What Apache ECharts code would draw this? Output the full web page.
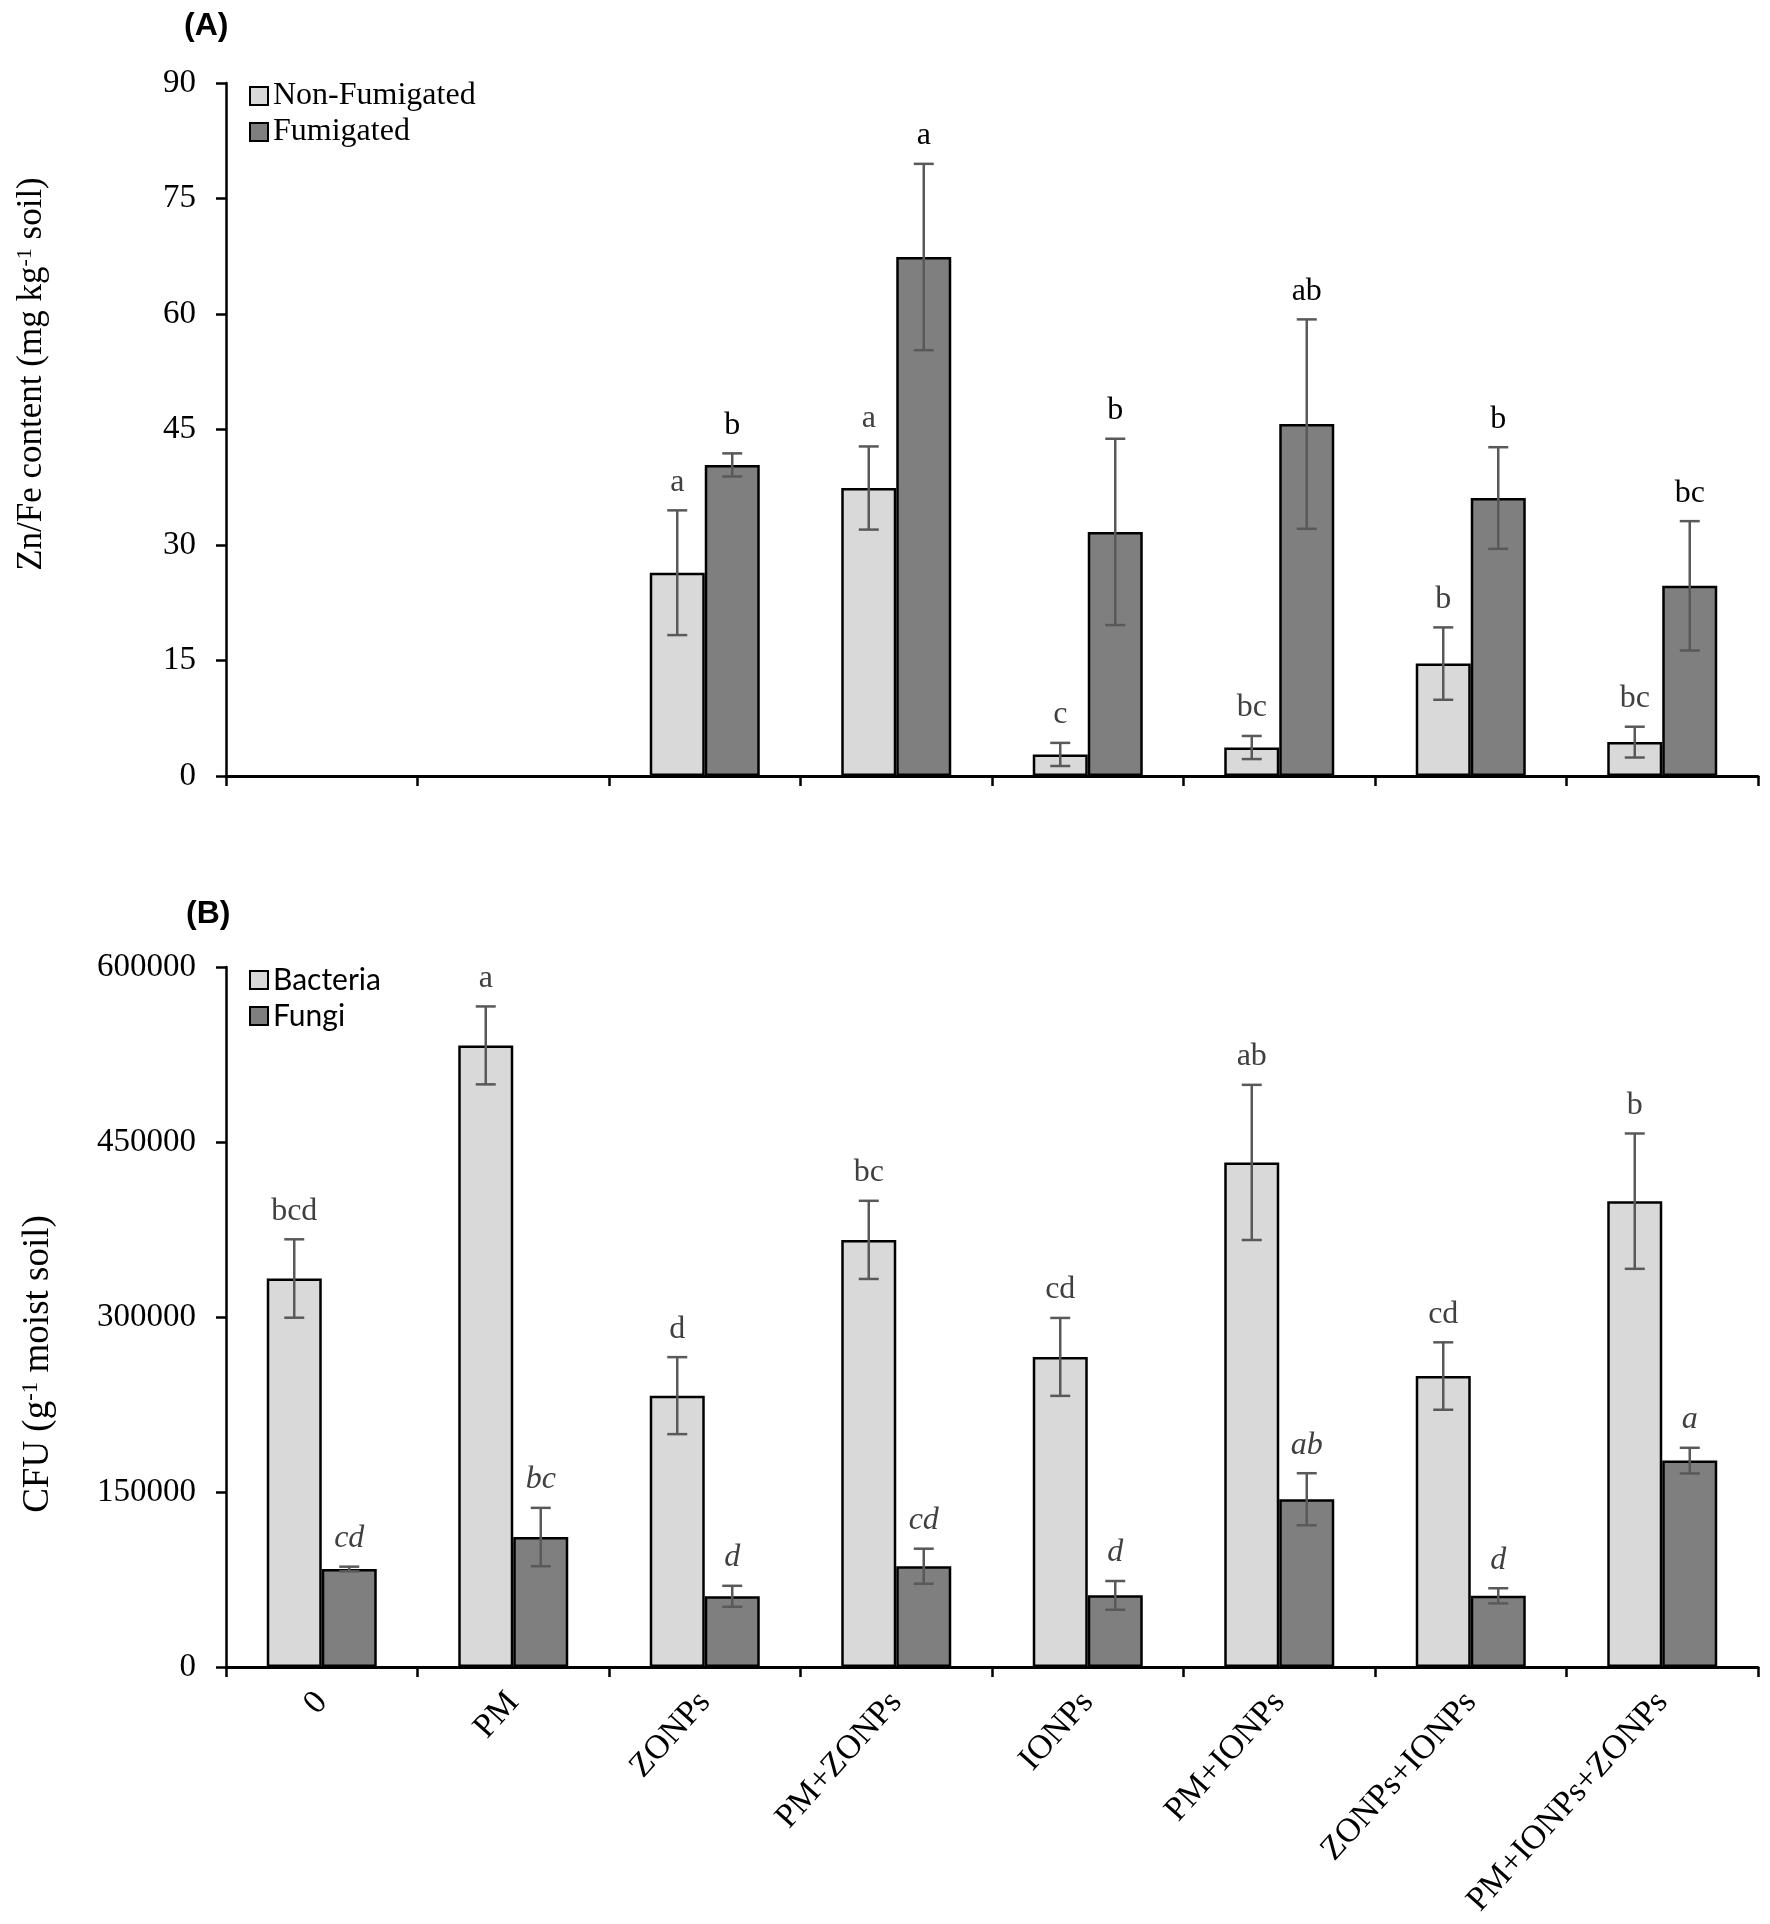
<!DOCTYPE html>
<html>
<head>
<meta charset="utf-8">
<script src="https://cdn.jsdelivr.net/npm/echarts@6/dist/echarts.min.js"></script>
<style>
  html, body { margin: 0; padding: 0; background: #fff; }
  #main { width: 1770px; height: 1924px; }
</style>
</head>
<body>
<div id="main"></div>
<script>
// treatments (x axis)
var categories = ['0', 'PM', 'ZONPs', 'PM+ZONPs', 'IONPs', 'PM+IONPs', 'ZONPs+IONPs', 'PM+IONPs+ZONPs'];

// (A) Zn/Fe content, mg kg-1 soil
var nonFumMean = [null, null, 26.4, 37.4, 2.8, 3.7, 14.6, 4.4];
var nonFumErr = [null, null, 8.1, 5.4, 1.5, 1.5, 4.7, 2.0];
var nonFumLetters = ['', '', 'a', 'a', 'c', 'bc', 'b', 'bc'];
var fumMean = [null, null, 40.4, 67.4, 31.7, 45.7, 36.1, 24.7];
var fumErr = [null, null, 1.5, 12.1, 12.1, 13.6, 6.6, 8.4];
var fumLetters = ['', '', 'b', 'a', 'b', 'ab', 'b', 'bc'];
var ticksA = [0, 90, 15];

// (B) CFU, g-1 moist soil
var bactMean = [333000, 532800, 232600, 366100, 265800, 432500, 249400, 399300];
var bactErr = [33600, 33400, 33000, 33500, 33400, 66500, 28900, 58000];
var bactLetters = ['bcd', 'a', 'd', 'bc', 'cd', 'ab', 'cd', 'b'];
var fungMean = [84000, 111400, 60600, 86400, 61400, 143800, 61000, 176900];
var fungErr = [2000, 25000, 9000, 15000, 12300, 22300, 6500, 11000];
var fungLetters = ['cd', 'bc', 'd', 'cd', 'd', 'ab', 'd', 'a'];
var ticksB = [0, 600000, 150000];

var SERIF = 'Liberation Serif';
var BAR_W = 55;
var LIGHT = '#d9d9d9';
var DARK = '#7f7f7f';

//误差线 + 字母标注
function errorSeries(name, axisIdx, mean, err, letters, side, labelStyle) {
    var data = [];
    for (var i = 0; i < mean.length; i++) {
        if (mean[i] == null) continue;
        data.push([i, mean[i], err[i]]);
    }
    return {
        type: 'custom',
        name: name + '_err',
        xAxisIndex: axisIdx,
        yAxisIndex: axisIdx,
        z: 10,
        silent: true,
        clip: false,
        data: data,
        renderItem: function(params, api) {
            var idx = api.value(0);
            var m = api.value(1);
            var e = api.value(2);
            var hi = api.coord([idx, m + e]);
            var lo = api.coord([idx, m - e]);
            var x = hi[0] + side * BAR_W / 2;
            var cap = 10;
            var st = { stroke: '#595959', lineWidth: 2.5 };
            return {
                type: 'group',
                children: [
                    { type: 'line', shape: { x1: x, y1: hi[1], x2: x, y2: lo[1] }, style: st },
                    { type: 'line', shape: { x1: x - cap, y1: hi[1], x2: x + cap, y2: hi[1] }, style: st },
                    { type: 'line', shape: { x1: x - cap, y1: lo[1], x2: x + cap, y2: lo[1] }, style: st },
                    {
                        type: 'text',
                        style: {
                            x: x,
                            y: hi[1] - 12,
                            text: letters[idx],
                            align: 'center',
                            verticalAlign: 'bottom',
                            fontFamily: SERIF,
                            fontSize: 32,
                            fontStyle: labelStyle.fontStyle,
                            fill: labelStyle.color
                        }
                    }
                ]
            };
        }
    };
}

function barSeries(name, axisIdx, mean, color) {
    return {
        type: 'bar',
        name: name,
        xAxisIndex: axisIdx,
        yAxisIndex: axisIdx,
        barWidth: BAR_W,
        barGap: '0%',
        data: mean,
        itemStyle: { color: color, borderColor: '#000', borderWidth: 2.5 }
    };
}

function yAxisOpt(idx, ticks) {
    return {
        type: 'value',
        gridIndex: idx,
        min: ticks[0],
        max: ticks[1],
        interval: ticks[2],
        axisLine: { show: true, lineStyle: { color: '#000', width: 2.5 } },
        axisTick: { show: true, length: 10, lineStyle: { color: '#000', width: 2.5 } },
        axisLabel: {
            fontFamily: SERIF, fontSize: 33, color: '#000', margin: 30,
            formatter: function(v) { return String(v); }
        },
        splitLine: { show: false }
    };
}

function xAxisOpt(idx, showLabel) {
    return {
        type: 'category',
        gridIndex: idx,
        data: categories,
        axisLine: { lineStyle: { color: '#000', width: 3 } },
        axisTick: { show: true, interval: 0, length: 10, lineStyle: { color: '#000', width: 2.5 } },
        axisLabel: {
            show: showLabel, interval: 0, rotate: 48, margin: 30,
            fontFamily: SERIF, fontSize: 34, color: '#000'
        }
    };
}

//纵轴标题(带上标)
function axisTitle(text, x, y, size) {
    return {
        type: 'text',
        x: x,
        y: y,
        rotation: Math.PI / 2,
        style: {
            text: text,
            align: 'center',
            verticalAlign: 'middle',
            fontFamily: SERIF,
            fontSize: size,
            fill: '#000',
            rich: {
                n: { fontFamily: SERIF, fontSize: size, fill: '#000' },
                sup: { fontFamily: SERIF, fontSize: Math.round(size * 0.62), fill: '#000', verticalAlign: 'top', lineHeight: 20 }
            }
        }
    };
}

var myChart = echarts.init(document.getElementById('main'));

var option = {
    backgroundColor: '#fff',
    animation: false,
    grid: [
        { left: 226, top: 83, width: 1532, height: 693 },
        { left: 226, top: 967, width: 1532, height: 700 }
    ],
    legend: [
        {
            data: ['Non-Fumigated', 'Fumigated'],
            orient: 'vertical', left: 244, top: 75, itemGap: 4,
            itemWidth: 18, itemHeight: 18, itemStyle: { borderWidth: 2 }, icon: 'rect',
            textStyle: { fontFamily: SERIF, fontSize: 32, color: '#000' }
        },
        {
            data: ['Bacteria', 'Fungi'],
            orient: 'vertical', left: 244, top: 960, itemGap: 6,
            itemWidth: 18, itemHeight: 18, itemStyle: { borderWidth: 2 }, icon: 'rect',
            textStyle: { fontFamily: 'Lato', fontSize: 30, color: '#000' }
        }
    ],
    xAxis: [xAxisOpt(0, false), xAxisOpt(1, true)],
    yAxis: [yAxisOpt(0, ticksA), yAxisOpt(1, ticksB)],
    graphic: [
        { type: 'text', left: 184, top: 10, style: { text: '(A)', font: 'bold 32px "Liberation Sans", Arial, sans-serif', fill: '#000' } },
        { type: 'text', left: 186, top: 898, style: { text: '(B)', font: 'bold 32px "Liberation Sans", Arial, sans-serif', fill: '#000' } },
        axisTitle('{n|Zn/Fe content (mg kg}{sup|-1}{n| soil)}', 32, 374, 35),
        axisTitle('{n|CFU (g}{sup|-1}{n| moist soil)}', 38, 1364, 37)
    ],
    series: [
        barSeries('Non-Fumigated', 0, nonFumMean, LIGHT),
        barSeries('Fumigated', 0, fumMean, DARK),
        barSeries('Bacteria', 1, bactMean, LIGHT),
        barSeries('Fungi', 1, fungMean, DARK),
        errorSeries('Non-Fumigated', 0, nonFumMean, nonFumErr, nonFumLetters, -1, { color: '#404040', fontStyle: 'normal' }),
        errorSeries('Fumigated', 0, fumMean, fumErr, fumLetters, 1, { color: '#000', fontStyle: 'normal' }),
        errorSeries('Bacteria', 1, bactMean, bactErr, bactLetters, -1, { color: '#404040', fontStyle: 'normal' }),
        errorSeries('Fungi', 1, fungMean, fungErr, fungLetters, 1, { color: '#404040', fontStyle: 'italic' })
    ]
};

myChart.setOption(option);
</script>
</body>
</html>
